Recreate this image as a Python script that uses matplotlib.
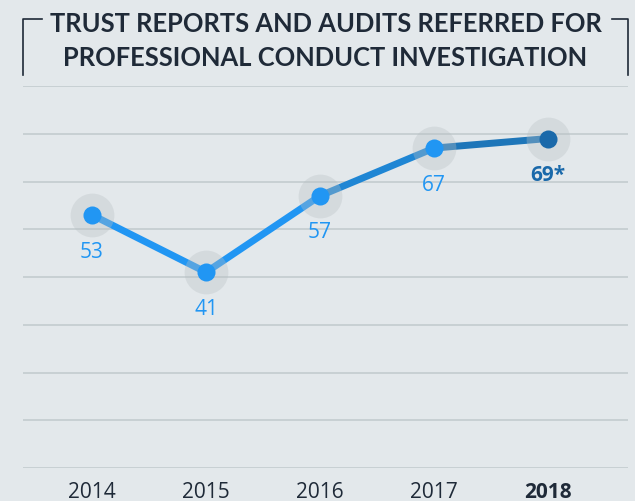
import numpy as np
import matplotlib
matplotlib.use("Agg")
import matplotlib.pyplot as plt
from matplotlib.collections import LineCollection
from matplotlib.lines import Line2D

years = ["2014", "2015", "2016", "2017", "2018"]
values = [53, 41, 57, 67, 69]
labels = ["53", "41", "57", "67", "69*"]
title_lines = ["TRUST REPORTS AND AUDITS REFERRED FOR",
               "PROFESSIONAL CONDUCT INVESTIGATION"]

BG = "#e3e8eb"
LIGHT = "#2196f3"
DARK = "#1a69aa"
TEXT = "#1f2a38"
seg_colors = [LIGHT, LIGHT, "#1f86d4", "#1e76b9"]

plt.rcParams["font.family"] = ["Open Sans", "DejaVu Sans"]

W, H = 635, 502
fig = plt.figure(figsize=(W / 100, H / 100), dpi=100, facecolor=BG)

# axes box in pixel terms: x 23..628, y 87..469 (top..bottom)
ax = fig.add_axes([23 / W, (H - 469) / H, (628 - 23) / W, (469 - 87) / H])
ax.set_facecolor(BG)
x = np.arange(len(years))
ax.set_xlim(-0.605, 4.70)
ax.set_ylim(0, 80)
ax.set_yticks(np.arange(0, 81, 10))
ax.grid(axis="y", color="#c3cccf", linewidth=1.2)
ax.set_axisbelow(True)
for s in ax.spines.values():
    s.set_visible(False)
ax.tick_params(left=False, bottom=False, labelleft=False)
ax.set_xticks(x)
ax.set_xticklabels(years, fontsize=15, color=TEXT)
ax.get_xticklabels()[-1].set_fontweight("bold")
ax.tick_params(axis="x", pad=6)

pts = np.column_stack([x, values])
segs = [pts[i:i + 2] for i in range(len(pts) - 1)]
lc = LineCollection(segs, colors=seg_colors, linewidths=5, capstyle="round", zorder=2)
ax.add_collection(lc)

# halos and dots
ax.plot(x, values, "o", ms=31.5, color="#b8c0c4", alpha=0.35, mec="none", zorder=3)
dot_colors = [LIGHT] * 4 + [DARK]
for xi, v, c, lab in zip(x, values, dot_colors, labels):
    ax.plot(xi, v, "o", ms=13, color=c, mec="none", zorder=4)
    ax.annotate(lab, (xi, v), xytext=(0, -26), textcoords="offset points",
                ha="center", va="center", fontsize=15, color=c,
                fontweight="bold" if c == DARK else "normal", zorder=5)

# title with bracket, centred between the bracket arms
for line, base in zip(title_lines, [32, 66]):
    fig.text(325.5 / W, 1 - base / H, line, ha="center", va="baseline", fontsize=18.4,
             fontweight="bold", color=TEXT, family=["Lato", "DejaVu Sans"])
fig.add_artist(Line2D([23 / W, 23 / W, 42 / W], [1 - 76 / H, 1 - 20 / H, 1 - 20 / H],
                      color=TEXT, linewidth=1.2))
fig.add_artist(Line2D([612 / W, 628 / W, 628 / W], [1 - 20 / H, 1 - 20 / H, 1 - 76 / H],
                      color=TEXT, linewidth=1.2))

fig.savefig("out.png", dpi=100, facecolor=BG)
